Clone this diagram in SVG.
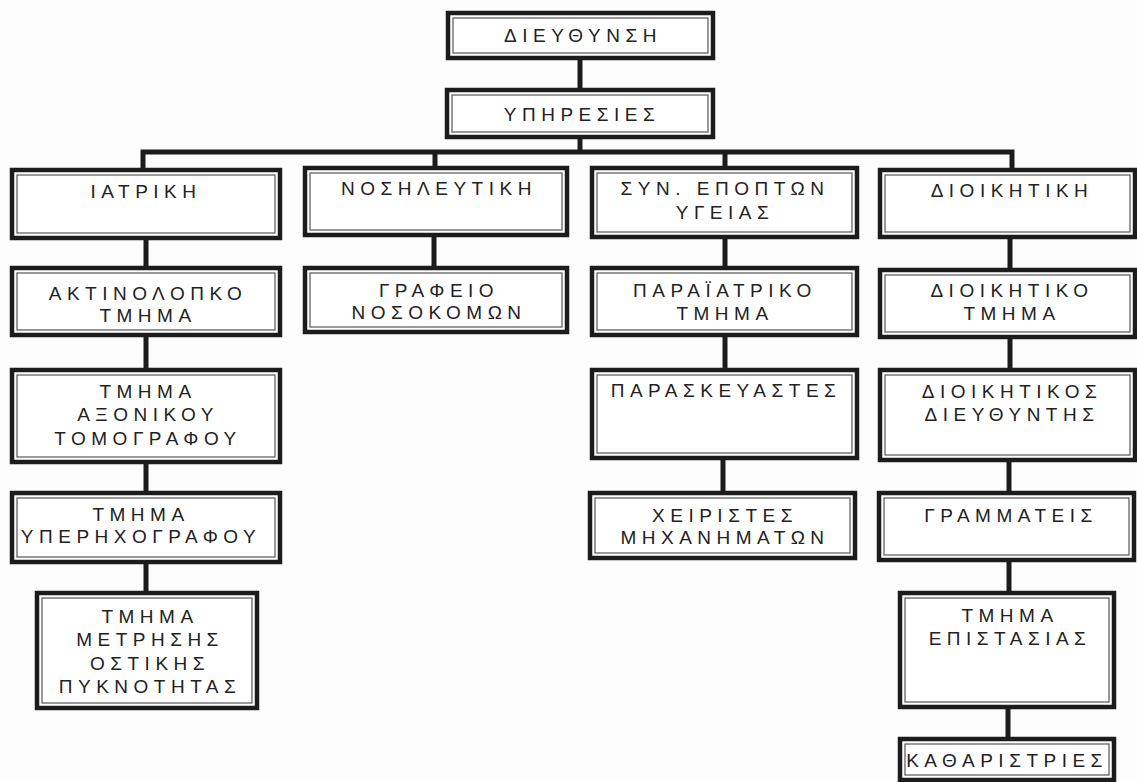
<svg xmlns="http://www.w3.org/2000/svg" width="1137" height="782" viewBox="0 0 1137 782">
<style>
.box{fill:#fff;stroke:#1c1c1c;stroke-width:4.5}
.inner{fill:none;stroke:#555;stroke-width:1.2}
.lbl{font-family:"Liberation Sans",Arial,sans-serif;font-size:19px;letter-spacing:5.5px;fill:#222;text-anchor:middle}
.con{stroke:#1c1c1c;stroke-width:5;fill:none}
</style>
<rect width="1137" height="782" fill="#fdfdfd"/>
<g id="connectors">
<path class="con" d="M580,58V90"/>
<path class="con" d="M580,137V152"/>
<path class="con" d="M143,170V152H1012V170"/>
<path class="con" d="M435,152V168"/>
<path class="con" d="M725,152V168"/>
<path class="con" d="M146,238V268"/>
<path class="con" d="M146,335V370"/>
<path class="con" d="M146,462V493"/>
<path class="con" d="M146,562V593"/>
<path class="con" d="M434,235V268"/>
<path class="con" d="M725,237V268"/>
<path class="con" d="M725,335V370"/>
<path class="con" d="M723,458V493"/>
<path class="con" d="M1010,237V270"/>
<path class="con" d="M1010,337V370"/>
<path class="con" d="M1009,460V493"/>
<path class="con" d="M1009,560V593"/>
<path class="con" d="M1008,707V739"/>
</g>
<g id="n_dir"><rect class="box" x="448" y="13" width="265" height="45"/><rect class="inner" x="453" y="18" width="255" height="35"/><text class="lbl" x="583" y="42">ΔΙΕΥΘΥΝΣΗ</text></g>
<g id="n_yp"><rect class="box" x="447" y="90" width="266" height="47"/><rect class="inner" x="452" y="95" width="256" height="37"/><text class="lbl" x="582" y="121">ΥΠΗΡΕΣΙΕΣ</text></g>
<g id="n_iat"><rect class="box" x="12" y="170" width="268" height="68"/><rect class="inner" x="17" y="175" width="258" height="58"/><text class="lbl" x="146" y="198">ΙΑΤΡΙΚΗ</text></g>
<g id="n_akt"><rect class="box" x="12" y="268" width="268" height="67"/><rect class="inner" x="17" y="273" width="258" height="57"/><text class="lbl" x="148" y="300">ΑΚΤΙΝΟΛΟΠΚΟ</text><text class="lbl" x="148" y="322">ΤΜΗΜΑ</text></g>
<g id="n_axon"><rect class="box" x="12" y="370" width="268" height="92"/><rect class="inner" x="17" y="375" width="258" height="82"/><text class="lbl" x="148" y="398">ΤΜΗΜΑ</text><text class="lbl" x="148" y="421">ΑΞΟΝΙΚΟΥ</text><text class="lbl" x="148" y="445">ΤΟΜΟΓΡΑΦΟΥ</text></g>
<g id="n_yper"><rect class="box" x="12" y="493" width="268" height="69"/><rect class="inner" x="17" y="498" width="258" height="59"/><text class="lbl" x="141" y="521">ΤΜΗΜΑ</text><text class="lbl" x="141" y="543">ΥΠΕΡΗΧΟΓΡΑΦΟΥ</text></g>
<g id="n_ost"><rect class="box" x="37" y="593" width="220" height="115"/><rect class="inner" x="42" y="598" width="210" height="105"/><text class="lbl" x="150" y="623">ΤΜΗΜΑ</text><text class="lbl" x="150" y="646">ΜΕΤΡΗΣΗΣ</text><text class="lbl" x="150" y="670">ΟΣΤΙΚΗΣ</text><text class="lbl" x="150" y="693">ΠΥΚΝΟΤΗΤΑΣ</text></g>
<g id="n_nos"><rect class="box" x="305" y="168" width="262" height="67"/><rect class="inner" x="310" y="173" width="252" height="57"/><text class="lbl" x="439" y="195">ΝΟΣΗΛΕΥΤΙΚΗ</text></g>
<g id="n_graf"><rect class="box" x="305" y="268" width="262" height="64"/><rect class="inner" x="310" y="273" width="252" height="54"/><text class="lbl" x="439" y="297">ΓΡΑΦΕΙΟ</text><text class="lbl" x="439" y="319">ΝΟΣΟΚΟΜΩΝ</text></g>
<g id="n_syn"><rect class="box" x="592" y="168" width="265" height="69"/><rect class="inner" x="597" y="173" width="255" height="59"/><text class="lbl" x="725" y="195">ΣΥΝ. ΕΠΟΠΤΩΝ</text><text class="lbl" x="725" y="219">ΥΓΕΙΑΣ</text></g>
<g id="n_para"><rect class="box" x="592" y="268" width="265" height="67"/><rect class="inner" x="597" y="273" width="255" height="57"/><text class="lbl" x="725" y="297">ΠΑΡΑΪΑΤΡΙΚΟ</text><text class="lbl" x="725" y="320">ΤΜΗΜΑ</text></g>
<g id="n_parask"><rect class="box" x="592" y="370" width="265" height="88"/><rect class="inner" x="597" y="375" width="255" height="78"/><text class="lbl" x="726" y="397">ΠΑΡΑΣΚΕΥΑΣΤΕΣ</text></g>
<g id="n_xeir"><rect class="box" x="590" y="493" width="265" height="65"/><rect class="inner" x="595" y="498" width="255" height="55"/><text class="lbl" x="725" y="522">ΧΕΙΡΙΣΤΕΣ</text><text class="lbl" x="725" y="544">ΜΗΧΑΝΗΜΑΤΩΝ</text></g>
<g id="n_dioik"><rect class="box" x="880" y="170" width="255" height="67"/><rect class="inner" x="885" y="175" width="245" height="57"/><text class="lbl" x="1012" y="197">ΔΙΟΙΚΗΤΙΚΗ</text></g>
<g id="n_dioiktm"><rect class="box" x="880" y="270" width="255" height="67"/><rect class="inner" x="885" y="275" width="245" height="57"/><text class="lbl" x="1012" y="297">ΔΙΟΙΚΗΤΙΚΟ</text><text class="lbl" x="1012" y="320">ΤΜΗΜΑ</text></g>
<g id="n_dieyth"><rect class="box" x="880" y="370" width="255" height="90"/><rect class="inner" x="885" y="375" width="245" height="80"/><text class="lbl" x="1012" y="398">ΔΙΟΙΚΗΤΙΚΟΣ</text><text class="lbl" x="1012" y="421">ΔΙΕΥΘΥΝΤΗΣ</text></g>
<g id="n_gramm"><rect class="box" x="879" y="493" width="255" height="67"/><rect class="inner" x="884" y="498" width="245" height="57"/><text class="lbl" x="1011" y="522">ΓΡΑΜΜΑΤΕΙΣ</text></g>
<g id="n_epist"><rect class="box" x="900" y="593" width="214" height="114"/><rect class="inner" x="905" y="598" width="204" height="104"/><text class="lbl" x="1010" y="622">ΤΜΗΜΑ</text><text class="lbl" x="1010" y="645">ΕΠΙΣΤΑΣΙΑΣ</text></g>
<g id="n_kath"><rect class="box" x="900" y="739" width="214" height="41"/><rect class="inner" x="905" y="744" width="204" height="31"/><text class="lbl" x="1007" y="767">ΚΑΘΑΡΙΣΤΡΙΕΣ</text></g>
</svg>
